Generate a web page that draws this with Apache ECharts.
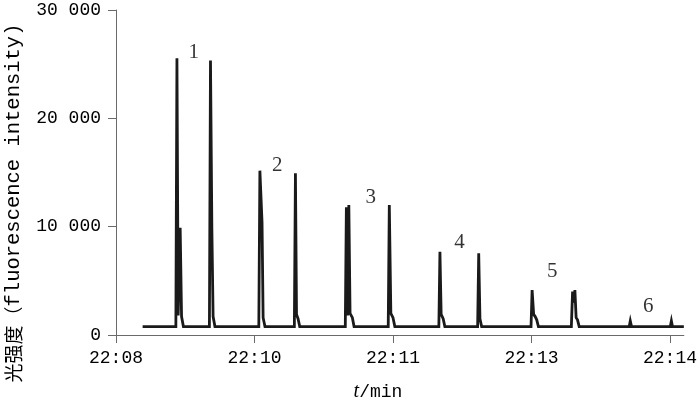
<!DOCTYPE html>
<html>
<head>
<meta charset="utf-8">
<script src="https://cdn.jsdelivr.net/npm/echarts@6/dist/echarts.min.js"></script>
<style>html,body{margin:0;padding:0;background:#fff;}#c{width:700px;height:403px;}</style>
</head>
<body>
<div id="c"></div>
<script>
// ---- data (time in seconds after the first tick; intensity in counts) ----
const xTickValues = [0, 90, 180, 270, 360];
const xTickLabels = ["22:08", "22:10", "22:11", "22:13", "22:14"];
const yTickLabels = ["0", "10 000", "20 000", "30 000"];

const timeSec = [
  17.3,
  38.9, 39.6, 40.4, 41.7, 42.6, 43.8,
  60.7, 61.4, 62.3, 63.1, 64.3,
  92.8, 93.5, 94.9, 95.6, 96.8,
  115.9, 116.6, 117.3, 118.3, 119.4,
  149.0, 149.7, 150.5, 151.3, 152.1, 153.6, 154.7,
  176.9, 177.6, 178.6, 180.0, 181.2,
  209.8, 210.5, 211.3, 212.6, 213.7,
  235.0, 235.7, 236.5, 237.6,
  269.7, 270.4, 271.4, 272.4, 273.4, 274.5,
  295.9, 296.7, 297.5, 298.2, 299.0, 299.9, 301.0,
  333.5, 334.2, 335.0,
  360.2, 360.9, 361.6,
  369
];
const intensity = [
  780,
  780, 25550, 1800, 9900, 1700, 780,
  780, 25330, 9790, 1700, 780,
  780, 15170, 10370, 1600, 780,
  780, 14930, 1900, 1500, 780,
  780, 11800, 1800, 12000, 2000, 1600, 780,
  780, 12000, 2000, 1600, 780,
  780, 7690, 1900, 1500, 780,
  780, 7540, 1500, 780,
  780, 4150, 1900, 1700, 1400, 780,
  780, 4000, 3000, 4150, 1600, 1400, 780,
  780, 1300, 780,
  780, 1300, 780,
  780
];

const peakLabelText = ["1", "2", "3", "4", "5", "6"];
const peakLabelTime = [50.5, 104.8, 165.5, 223.2, 283.5, 345.8];
const peakLabelValue = [26100, 15650, 12650, 8500, 5850, 2650];

// ---- chart ----
const lineData = timeSec.map((t, i) => [t, intensity[i]]);
const labelData = peakLabelText.map((s, i) => ({ name: s, value: [peakLabelTime[i], peakLabelValue[i]] }));

const chart = echarts.init(document.getElementById('c'), null, { renderer: 'canvas' });
const mono = '"Liberation Mono", "DejaVu Sans Mono", monospace';
const axisColor = '#6a6a6a';

chart.setOption({
  animation: false,
  backgroundColor: '#ffffff',
  grid: { left: 116, right: 9, top: 10, bottom: 68, containLabel: false },
  xAxis: {
    type: 'value',
    min: 0,
    max: 369,
    interval: 90,
    axisLine: { show: true, lineStyle: { color: axisColor, width: 1 } },
    axisTick: { show: true, length: 8, customValues: xTickValues, lineStyle: { color: axisColor } },
    axisLabel: {
      customValues: xTickValues,
      margin: 14,
      color: '#000',
      fontFamily: mono,
      fontSize: 18,
      formatter: v => { const i = xTickValues.indexOf(Math.round(v)); return i >= 0 ? xTickLabels[i] : ''; }
    },
    splitLine: { show: false }
  },
  yAxis: {
    type: 'value',
    min: 0,
    max: 30000,
    interval: 10000,
    axisLine: { show: true, lineStyle: { color: axisColor, width: 1 } },
    axisTick: { show: true, length: 8, lineStyle: { color: axisColor } },
    axisLabel: {
      margin: 15,
      color: '#000',
      fontFamily: mono,
      fontSize: 18,
      formatter: v => yTickLabels[Math.round(v / 10000)] || ''
    },
    splitLine: { show: false }
  },
  series: [
    {
      type: 'line',
      data: lineData,
      showSymbol: false,
      symbol: 'none',
      lineStyle: { color: '#1a1a1a', width: 2.8, join: 'miter' },
      z: 3
    },
    {
      type: 'scatter',
      data: labelData,
      symbolSize: 1,
      itemStyle: { color: 'transparent' },
      label: {
        show: true,
        position: 'inside',
        formatter: p => p.name,
        color: '#000',
        fontFamily: '"Liberation Serif", "DejaVu Serif", serif',
        fontSize: 21
      },
      z: 4
    }
  ],
  graphic: [
    {
      type: 'text',
      x: 14,
      y: 203,
      rotation: Math.PI / 2,
      style: {
        text: '{a|光强度}{b|（}{c|fluorescence intensity)}',
        align: 'center',
        verticalAlign: 'middle',
        textAlign: 'center',
        textVerticalAlign: 'middle',
        rich: {
          a: { fontFamily: '"Noto Sans CJK SC", sans-serif', fontSize: 19, fill: '#000', color: '#000' },
          b: { fontFamily: '"Noto Sans CJK SC", sans-serif', fontSize: 19, fill: '#000', color: '#000' },
          c: { fontFamily: mono, fontSize: 20.5, fill: '#000', color: '#000' }
        }
      }
    },
    {
      type: 'text',
      x: 378,
      y: 392,
      style: {
        text: '{i|t}{m|/min}',
        align: 'center',
        verticalAlign: 'middle',
        textAlign: 'center',
        textVerticalAlign: 'middle',
        rich: {
          i: { fontFamily: '"Liberation Serif", serif', fontStyle: 'italic', fontSize: 20, fill: '#000', color: '#000' },
          m: { fontFamily: mono, fontSize: 18, fill: '#000', color: '#000' }
        }
      }
    }
  ]
});
</script>
</body>
</html>
